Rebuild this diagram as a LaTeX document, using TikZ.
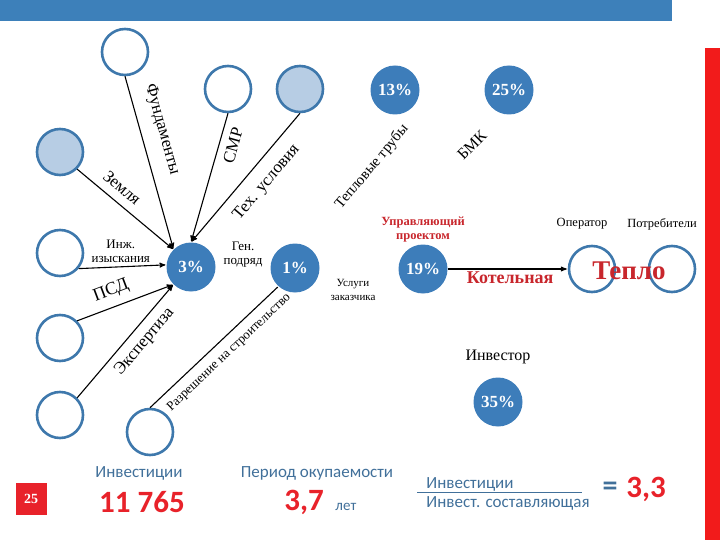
\documentclass[tikz,border=0pt]{standalone}
\usepackage{fontspec}
\setmainfont{Liberation Serif}
\newfontfamily\calfont{Carlito}
\usepackage{tikz}
\usetikzlibrary{arrows}

\definecolor{barblue}{HTML}{3D80BA}
\definecolor{ringblue}{HTML}{3E78AC}
\definecolor{fillblue}{HTML}{3D7DBA}
\definecolor{paleblue}{HTML}{B7CDE4}
\definecolor{darkred}{HTML}{C8262C}
\definecolor{brightred}{HTML}{E8222A}
\definecolor{slateblue}{HTML}{41709A}
\definecolor{sidered}{HTML}{F21B1B}
\newcommand{\fsz}[1]{\fontsize{#1}{#1}\selectfont}

\begin{document}
\begin{tikzpicture}[x=1pt, y=-1pt, >=stealth', shorten >=1pt, align=center, node distance=39pt,
  ring/.style={circle, draw=ringblue, line width=2.6pt, minimum size=46pt, inner sep=0pt, fill=white},
  pale/.style={ring, fill=paleblue},
  share/.style={circle, fill=fillblue, minimum size=49pt, inner sep=0pt, text=white, font=\bfseries\fsz{17}},
  lbl/.style={font=\fsz{17}},
  small/.style={font=\fontsize{13}{14}\selectfont, inner sep=1pt},
  redlbl/.style={text=darkred, font=\bfseries\fontsize{12.5}{14}\selectfont},
  calc/.style={text=slateblue, font=\calfont\fsz{17}},
  bignum/.style={text=brightred, font=\calfont\bfseries\fsz{31}}]
  \useasboundingbox (0,0) rectangle (720,540);
  \fill[barblue] (0,0) rectangle (672,21);
  \fill[sidered] (705,48) rectangle (720,540);

  \node[ring]   (fund)   at (125,52)  {};
  \node[ring]   (smr)    at (228,89)  {};
  \node[pale]   (tech)   at (300,89)  {};
  \node[pale]   (zem)    at (60,152)  {};
  \node[ring]   (inzh)   at (60,253)  {};
  \node[ring]   (psd)    at (60,338)  {};
  \node[ring]   (exp)    at (60,415)  {};
  \node[ring]   (razr)   at (150,432) {};
  \node[ring]   (oper)   at (592,269) {};
  \node[ring]   (potr)   at (672,269) {};

  \node[share]  (g3)     at (191,267) {3\%};
  \node[share]  (g1)     at (295,268) {1\%};
  \node[share]  (p13)    at (395,90)  {13\%};
  \node[share]  (p25)    at (509,90)  {25\%};
  \node[share]  (p19)    at (423,269) {19\%};
  \node[share]  (p35)    at (498,402) {35\%};

  \path[->, line width=1.1pt]
        (fund.south)  edge  node [lbl, sloped, above=10pt, pos=0.34] {Фундаменты} (g3.135)
        (zem.-45)     edge  node [lbl, sloped, above=5pt, pos=0.37]  {Земля} (g3.135)
        (smr.south)   edge  node [lbl, sloped, below=4pt, pos=0.22]  {СМР} (g3.north)
        (tech.south)  edge  node [lbl, sloped, below=8pt, pos=0.44]  {Тех. условия} (g3.north)
        (inzh.-40)    edge  node [small, above=3pt, pos=0.48] {Инж.\\изыскания} (g3.175)
        (psd.45)      edge  node [lbl, sloped, above=4pt, pos=0.41, font=\fsz{18}] {ПСД} (g3.225)
        (exp.45)      edge  node [lbl, sloped, below=4pt, pos=0.58]  {Экспертиза} (g3.225)
        (p19)         edge  node [below=-1pt, pos=0.52, text=darkred, font=\bfseries\fsz{18}] {Котельная} (oper)
        (razr.north)  edge [-] node [small, sloped, below=7pt, pos=0.54] {Разрешение на строительство} (g1.228)
        ;

  \node[small] (gen)  at (243,255) {Ген.\\подряд};
  \node[small, font=\fontsize{11}{14}\selectfont] (usl) at (353,290) {Услуги\\заказчика};
  \node[lbl, font=\fsz{15}, rotate=50] (trub) at (372,167) {Тепловые трубы};
  \node[lbl, font=\fsz{16}, rotate=45] (bmk)  at (472,145) {БМК};
  \node[redlbl] (upr) [above of=p19] {Управляющий\\проектом};
  \node[small, font=\fsz{12.5}] (opl)  at (582,224) {Оператор};
  \node[small, font=\fsz{12.5}] (potl) at (662,224) {Потребители};
  \node[text=darkred, font=\bfseries\fsz{27}] (teplo) at (629,271) {Тепло};
  \node[lbl, font=\fsz{16}] (inv) [above of=p35, node distance=45pt] {Инвестор};

  % bottom line
  \node[fill=brightred, text=white, minimum width=31pt, minimum height=32pt, inner sep=0pt, font=\bfseries\fsz{14}] (pg) at (31,499) {25};
  \node[calc] (invt) at (139,473) {Инвестиции};
  \node[bignum] (sum) at (142,502) {11 765};
  \node[calc] (per) at (317,473) {Период окупаемости};
  \node[bignum] (yrs) at (304,502) {3,7};
  \node[calc, font=\calfont\fsz{15}, anchor=base west, inner sep=0pt] (lt) at ([xshift=8pt]yrs.base east) {лет};
  \node[calc] (num) at (470,484) {Инвестиции};
  \node[calc] (den) at (508,503) {Инвест. составляющая};
  \coordinate (barl) at (417,492);
  \coordinate (barr) at (583,492);
  \draw[slateblue, line width=0.8pt] (barl) -- (barr);
  \node[text=slateblue, font=\calfont\bfseries\fsz{30}] (eq) at (610,489) {=};
  \node[bignum] (res) at (646,489) {3,3};
\end{tikzpicture}
\end{document}
